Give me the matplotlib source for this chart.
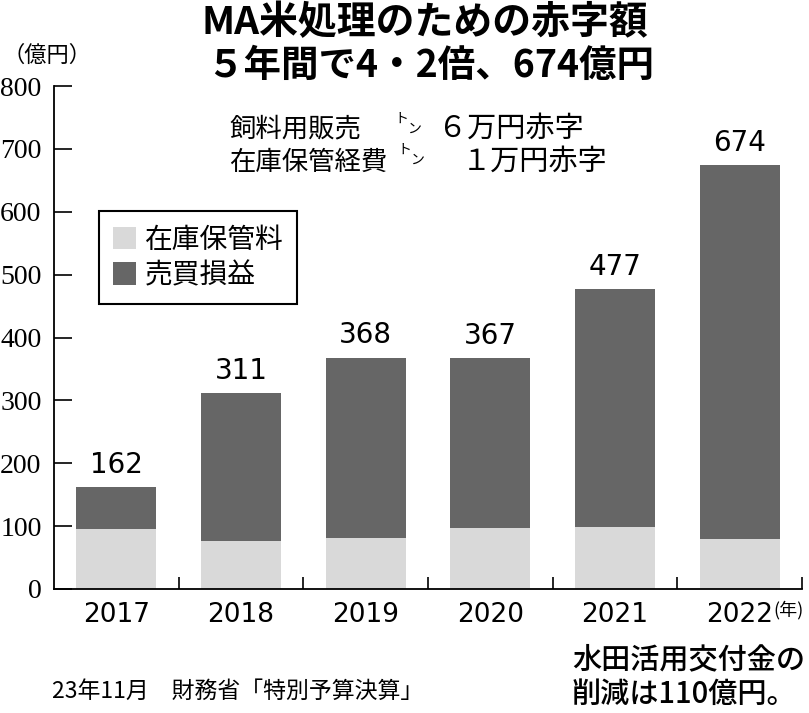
import numpy as np
import matplotlib
matplotlib.use('Agg')
import matplotlib.pyplot as plt
from matplotlib.patches import Patch

plt.rcParams['font.family'] = ['Noto Sans CJK JP', 'DejaVu Sans']

# ── データ ─────────────────────────────────────────
years   = ['2017', '2018', '2019', '2020', '2021', '2022']
totals  = [162, 311, 368, 367, 477, 674]
storage = [95, 76, 81, 97, 98, 80]          # 在庫保管料
trade   = [t - s for t, s in zip(totals, storage)]   # 売買損益
yticks  = [0, 100, 200, 300, 400, 500, 600, 700, 800]

LIGHT = '#d9d9d9'
DARK  = '#666666'

W, H = 809, 713
fig = plt.figure(figsize=(W / 100, H / 100), dpi=100)
ax = fig.add_axes([54 / W, 1 - 589 / H, 748 / W, 503 / H])


def fx(px):
    return px / W


def fy(py):
    return 1 - py / H


x = np.arange(len(years))
ax.bar(x, storage, width=0.64, color=LIGHT, linewidth=0)
ax.bar(x, trade, width=0.64, bottom=storage, color=DARK, linewidth=0)

for i, t in enumerate(totals):
    ax.annotate(str(t), (i, t), xytext=(0, 6), textcoords='offset points',
                ha='center', va='bottom', fontsize=20,
                family='DejaVu Sans')

ax.set_xlim(-0.5, 5.5)
ax.set_ylim(0, 800)
ax.spines['top'].set_visible(False)
ax.spines['right'].set_visible(False)
ax.spines['left'].set_linewidth(1.3)
ax.spines['bottom'].set_linewidth(1.3)

ax.set_yticks(yticks)
ax.set_yticklabels([str(v) for v in yticks], family='Liberation Serif',
                   fontsize=20)
ax.tick_params(axis='y', direction='in', length=13, width=1.2, pad=9)

ax.set_xticks(x)
ax.set_xticklabels(years, family='DejaVu Sans', fontsize=19)
ax.tick_params(axis='x', which='major', length=0, pad=9)
ax.set_xticks(np.arange(0.5, 6, 1), minor=True)
ax.tick_params(axis='x', which='minor', direction='in', length=8.5,
               width=1.2)

handles = [Patch(facecolor=LIGHT, label='在庫保管料'),
           Patch(facecolor=DARK, label='売買損益')]
leg = ax.legend(handles=handles, loc='upper left',
                bbox_to_anchor=(0.060, 0.752), borderaxespad=0,
                fontsize=20, fancybox=False, edgecolor='black',
                handlelength=0.85, handleheight=0.85, handletextpad=0.3,
                labelspacing=0.2, borderpad=0.5, framealpha=1)
leg.get_frame().set_linewidth(1.5)

# ── タイトル・注記 ─────────────────────────────────
fig.text(fx(425), fy(23), 'MA米処理のための赤字額', ha='center',
         va='center', fontsize=28, fontweight='bold')
fig.text(fx(430), fy(65), '５年間で4・2倍、674億円', ha='center',
         va='center', fontsize=27, fontweight='bold')

fig.text(fx(2), fy(55), '（億円）', ha='left', va='center', fontsize=16)

fig.text(fx(229), fy(129), '飼料用販売', ha='left', va='center',
         fontsize=19)
fig.text(fx(229), fy(162), '在庫保管経費', ha='left', va='center',
         fontsize=19)
for tx, ty in [(401, 119), (404, 150)]:
    fig.text(fx(tx), fy(ty), 'ト', ha='center', va='center', fontsize=10)
    fig.text(fx(tx + 13), fy(ty + 10), 'ン', ha='center', va='center',
             fontsize=10)
fig.text(fx(438), fy(129), '６万円赤字', ha='left', va='center',
         fontsize=21)
fig.text(fx(462), fy(162), '１万円赤字', ha='left', va='center',
         fontsize=21)

fig.text(fx(773), fy(610), '(年)', ha='left', va='center', fontsize=13)

fig.text(fx(52), fy(691), '23年11月　財務省「特別予算決算」', ha='left',
         va='center', fontsize=16.5)
fig.text(fx(572), fy(660), '水田活用交付金の', ha='left', va='center',
         fontsize=21, fontweight='medium')
fig.text(fx(572), fy(694), '削減は110億円。', ha='left', va='center',
         fontsize=21, fontweight='medium')

fig.savefig('out.png', dpi=100)
